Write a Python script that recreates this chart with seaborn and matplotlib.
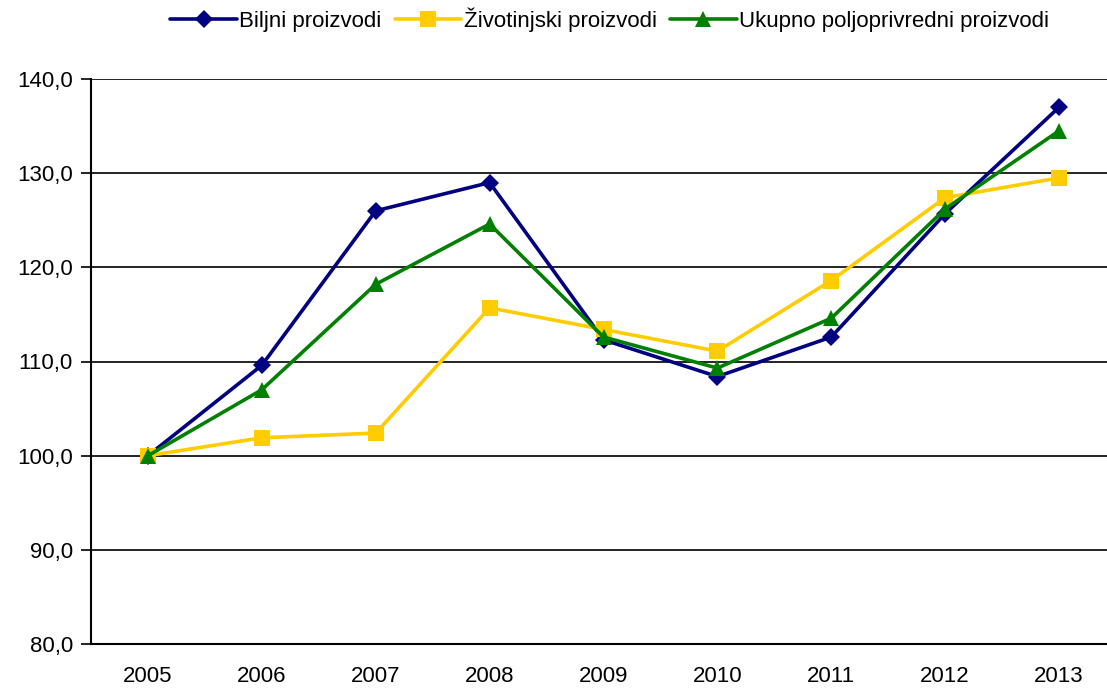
import pandas as pd
import matplotlib.pyplot as plt
import seaborn as sns
from matplotlib.ticker import FixedLocator, FuncFormatter

# Values (index, 2005 = 100)
years = ['2005', '2006', '2007', '2008', '2009', '2010', '2011', '2012', '2013']
biljni = [100.0, 109.6, 126.0, 129.0, 112.3, 108.4, 112.6, 125.7, 137.0]
zivotinjski = [100.0, 101.9, 102.4, 115.7, 113.4, 111.1, 118.6, 127.4, 129.5]
ukupno = [100.0, 107.0, 118.2, 124.6, 112.6, 109.3, 114.6, 126.2, 134.5]
series_names = ['Biljni proizvodi', 'Životinjski proizvodi', 'Ukupno poljoprivredni proizvodi']

df = pd.DataFrame({
    'x': list(range(len(years))) * 3,
    'value': biljni + zivotinjski + ukupno,
    'serija': [n for n in series_names for _ in years],
})

sns.set_style('white')
plt.rcParams['font.family'] = ['Liberation Sans', 'DejaVu Sans']
plt.rcParams['text.color'] = 'black'

fig = plt.figure(figsize=(11.07, 6.88), dpi=100)
ax = fig.add_axes([91 / 1107, 1 - 644 / 688, 1025 / 1107, 565 / 688])

palette = {series_names[0]: '#000080', series_names[1]: '#FFCC00', series_names[2]: '#008000'}
markers = {series_names[0]: 'D', series_names[1]: 's', series_names[2]: '^'}
sizes = {series_names[0]: 9, series_names[1]: 11, series_names[2]: 11}

for name in series_names:
    sub = df[df['serija'] == name]
    sns.lineplot(data=sub, x='x', y='value', color=palette[name], marker=markers[name],
                 markersize=sizes[name], markeredgewidth=0, linewidth=2.6, label=name,
                 ax=ax, clip_on=False, zorder=3)

ax.set_xlim(-0.5, len(years) - 0.5)
ax.set_ylim(80, 140)
ax.set_yticks(range(80, 141, 10))
ax.yaxis.set_major_formatter(FuncFormatter(lambda v, p: f'{v:.1f}'.replace('.', ',')))
ax.grid(axis='y', color='black', linewidth=1.2)
ax.set_axisbelow(True)

ax.set_xticks(range(len(years)))
ax.set_xticklabels(years)
ax.xaxis.set_minor_locator(FixedLocator([i - 0.5 for i in range(len(years) + 1)]))
ax.tick_params(axis='x', which='major', length=0, labelsize=16, pad=16, labelcolor='black')
ax.tick_params(axis='x', which='minor', length=7, width=1.2, color='black', direction='out')
ax.tick_params(axis='y', length=7, width=1.2, color='black', direction='out', labelsize=16,
               left=True, pad=6, labelcolor='black')

ax.set_xlabel('')
ax.set_ylabel('')
for side in ['top', 'right']:
    ax.spines[side].set_visible(False)
for side in ['left', 'bottom']:
    ax.spines[side].set_color('black')
    ax.spines[side].set_linewidth(1.5)

leg = ax.legend(loc='center', bbox_to_anchor=(0.506, 1 + 59 / 565), ncol=3, frameon=False,
                fontsize=16, handlelength=3, columnspacing=0.6, handletextpad=0.1, borderaxespad=0)
for t in leg.get_texts():
    t.set_color('black')

plt.savefig('out.png', dpi=100)
